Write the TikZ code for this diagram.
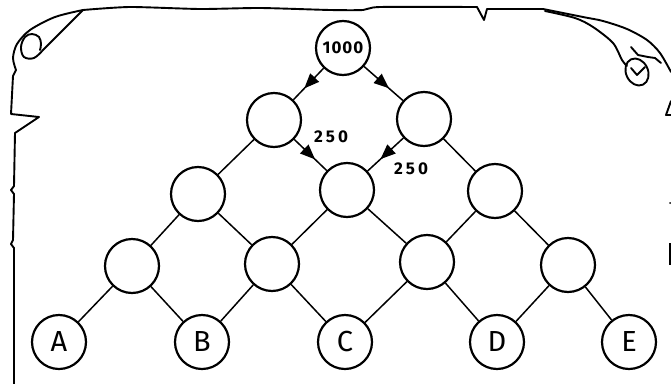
\documentclass[tikz,border=0pt]{standalone}
\usepackage{fontspec}
\setmainfont{Fira Sans}
\usetikzlibrary{decorations.markings,arrows.meta}
\begin{document}
\begin{tikzpicture}[x=1pt,y=-1pt,
  ball/.style={circle,draw,line width=2.2pt,minimum size=54pt,inner sep=0pt},
  edge/.style={line width=1.5pt},
  flow/.style={edge,postaction={decorate},decoration={markings,
      mark=at position 0.64 with {\arrow{Triangle[length=15pt,width=12pt]}}}},
  scroll/.style={line width=1.9pt,line join=round,line cap=round},
  letter/.style={font=\fontsize{29}{29}\selectfont},
  lbl/.style={font=\bfseries\fontsize{17}{17}\selectfont\addfontfeatures{LetterSpace=18},inner sep=1pt}]
\useasboundingbox (0,0) rectangle (671,383);
% scroll outline
\draw[scroll] plot[smooth,tension=0.5] coordinates {(83,10) (55,17) (30,30) (17,44) (13,58) (16,70)}
  -- (13,76) -- (11,114) -- (39,117) -- (15,133) -- (14,186) -- (11,190) -- (14,194)
  -- (13,240) -- (11,244) -- (14,248) -- (14,384);
\draw[scroll] (83,10) -- (43,50) plot[smooth,tension=0.6] coordinates {(43,50) (34,58) (24,57) (21,47) (25,37) (32,34) (39,37) (41,44) (40,50)};
\draw[scroll] plot[smooth,tension=0.4] coordinates {(83,10) (130,7) (200,9) (260,8) (330,10) (363,10) (380,7) (477,7)}
  -- (484,20) -- (487,9) -- (543,9);
\draw[scroll] plot[smooth,tension=0.5] coordinates {(543,9) (583,17) (603,21) (627,29) (647,40) (660,53) (671,72)};
\draw[scroll] plot[smooth,tension=0.5] coordinates {(545,11) (575,18) (593,27) (613,43) (622,60) (627,66)};
\draw[scroll,rotate around={25:(637,72)}] (637,72) ellipse (11pt and 14pt);
\draw[scroll] (631,47) -- (638,55) -- (648,57) -- (655,58) -- (661,63);
\draw[scroll] (631,68) -- (637,75) -- (645,67);
\draw[scroll] (671,101) -- (666,115) -- (671,115);
\draw[line width=2.5pt] (670,243) -- (670,265);
\fill (670,203) circle (1pt);
% nodes
\node[ball,font=\bfseries\fontsize{17}{17}\selectfont\addfontfeatures{LetterSpace=6}] (n0) at (343,48) {1000};
\node[ball] (n10) at (274,120) {};
\node[ball] (n11) at (424,119) {};
\node[ball] (n20) at (198,194) {};
\node[ball] (n21) at (347,190) {};
\node[ball] (n22) at (495,191) {};
\node[ball] (n30) at (132,266) {};
\node[ball] (n31) at (272,264) {};
\node[ball] (n32) at (427,262) {};
\node[ball] (n33) at (568,265) {};
\node[ball,letter] (A) at (59,342) {A};
\node[ball,letter] (B) at (202,342) {B};
\node[ball,letter] (C) at (345,342) {C};
\node[ball,letter] (D) at (497,342) {D};
\node[ball,letter] (E) at (629,342) {E};
% connectors
\draw[flow] (n0) -- (n10);
\draw[flow] (n0) -- (n11);
\draw[flow] (n10) -- (n21);
\draw[flow] (n11) -- (n21);
\draw[edge] (n10) -- (n20);
\draw[edge] (n11) -- (n22);
\draw[edge] (n20) -- (n30);
\draw[edge] (n20) -- (n31);
\draw[edge] (n21) -- (n31);
\draw[edge] (n21) -- (n32);
\draw[edge] (n22) -- (n32);
\draw[edge] (n22) -- (n33);
\draw[edge] (n30) -- (A);
\draw[edge] (n30) -- (B);
\draw[edge] (n31) -- (B);
\draw[edge] (n31) -- (C);
\draw[edge] (n32) -- (C);
\draw[edge] (n32) -- (D);
\draw[edge] (n33) -- (D);
\draw[edge] (n33) -- (E);
% labels
\node[lbl] (l1) at (331,137) {250};
\node[lbl] (l2) at (411,169) {250};
\end{tikzpicture}
\end{document}
